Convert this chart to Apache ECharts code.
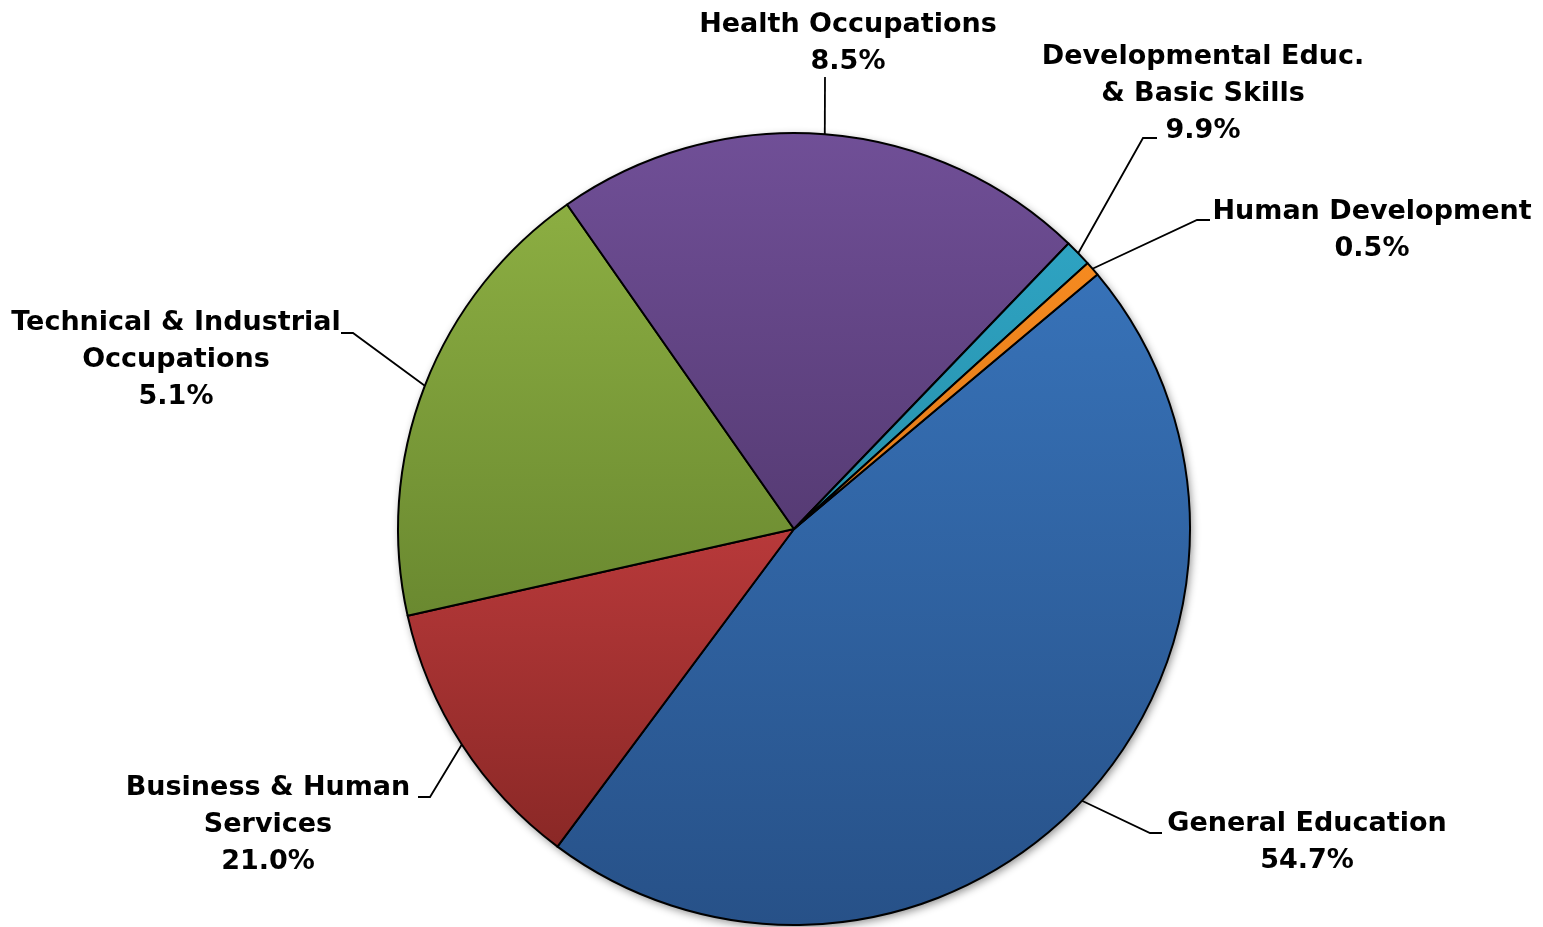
<!DOCTYPE html>
<html><head><meta charset="utf-8">
<script src="https://cdn.jsdelivr.net/npm/echarts@6/dist/echarts.min.js"></script>
<style>html,body{margin:0;padding:0;background:#fff}#c{width:1543px;height:927px}</style>
</head><body><div id="c"></div>
<script>
// ---- data ----
const categories = ['General Education', 'Business & Human\nServices', 'Technical & Industrial\nOccupations', 'Health Occupations', 'Developmental Educ.\n& Basic Skills', 'Human Development'];
const sliceValues = [46.3, 11.3, 18.8, 21.9, 1.1, 0.6];
const labelPercents = ['54.7%', '21.0%', '5.1%', '8.5%', '9.9%', '0.5%'];

// ---- styles / layout ----
const topColors = ['#3772b8', '#b8393a', '#8cae42', '#704f97', '#2ea3c2', '#f58a20'];
const bottomColors = ['#275188', '#8a2826', '#6a8930', '#563b74', '#2790ab', '#e07a18'];
const labelCenters = [[1307, 842], [268, 825], [176, 360], [848, 43], [1203, 94], [1372, 230]];
const leaderPoints = [
  [[1150, 833], [1162, 833]],
  [[430, 797], [418, 797]],
  [[353, 333], [341, 333]],
  [[825, 77], [825, 77]],
  [[1143, 138], [1157, 138]],
  [[1197, 220], [1210, 220]]
];

const chart = echarts.init(document.getElementById('c'), null, {renderer: 'canvas'});
const total = sliceValues.reduce((a, b) => a + b, 0);

const pieData = categories.map((name, i) => ({
  name: name,
  value: sliceValues[i],
  itemStyle: {
    color: new echarts.graphic.LinearGradient(0, 0, 0, 1, [
      {offset: 0, color: topColors[i]},
      {offset: 1, color: bottomColors[i]}
    ])
  }
}));

chart.setOption({
  animation: false,
  backgroundColor: '#ffffff',
  series: [
    {
      type: 'pie',
      silent: true,
      center: [794, 529],
      radius: [0, 396],
      startAngle: 40,
      data: [{value: total, name: 'shadow'}],
      label: {show: false},
      labelLine: {show: false},
      itemStyle: {
        color: '#ffffff',
        shadowBlur: 8,
        shadowColor: 'rgba(0,0,0,0.45)',
        shadowOffsetX: 2,
        shadowOffsetY: 3
      }
    },
    {
      type: 'pie',
      center: [794, 529],
      radius: [0, 396],
      startAngle: 40,
      clockwise: true,
      avoidLabelOverlap: false,
      data: pieData,
      itemStyle: {borderColor: '#000000', borderWidth: 2},
      label: {
        show: true,
        position: 'outside',
        formatter: p => p.name + '\n' + labelPercents[p.dataIndex],
        fontFamily: 'DejaVu Sans',
        fontWeight: 'bold',
        fontSize: 27,
        lineHeight: 37,
        color: '#000000',
        align: 'center'
      },
      labelLine: {show: true, length: 20, length2: 10, lineStyle: {color: '#000000', width: 1.8}},
      labelLayout: function (params) {
        const i = params.dataIndex;
        const start = params.labelLinePoints ? params.labelLinePoints[0] : leaderPoints[i][0];
        return {
          x: labelCenters[i][0],
          y: labelCenters[i][1],
          align: 'center',
          verticalAlign: 'middle',
          labelLinePoints: [start, leaderPoints[i][0], leaderPoints[i][1]]
        };
      }
    }
  ]
});
</script>
</body></html>
